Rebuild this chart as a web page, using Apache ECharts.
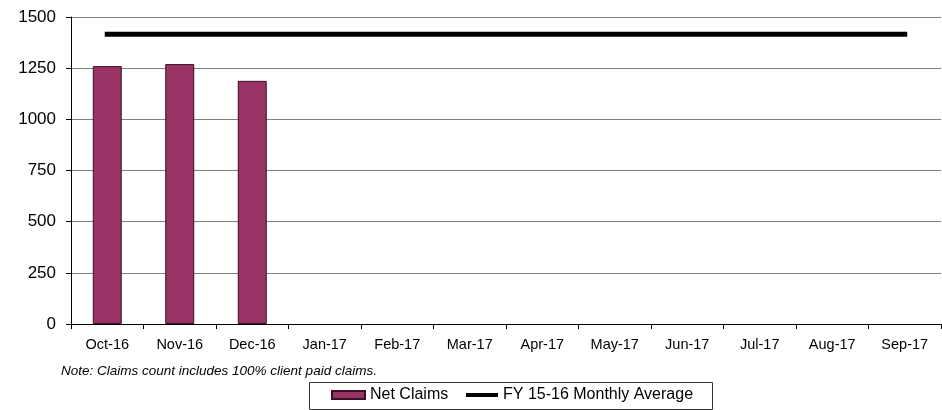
<!DOCTYPE html>
<html>
<head>
<meta charset="utf-8">
<script src="https://cdn.jsdelivr.net/npm/echarts@6/dist/echarts.min.js"></script>
<style>
  html, body { margin: 0; padding: 0; background: #fff; }
  #chart { width: 942px; height: 410px; }
</style>
</head>
<body>
<div id="chart"></div>
<script>
// Months of the fiscal year
const months = ['Oct-16', 'Nov-16', 'Dec-16', 'Jan-17', 'Feb-17', 'Mar-17',
                'Apr-17', 'May-17', 'Jun-17', 'Jul-17', 'Aug-17', 'Sep-17'];
// Net claims per month (only first quarter reported so far)
const netClaims = [1260, 1270, 1188, null, null, null, null, null, null, null, null, null];
// Prior fiscal year monthly average, drawn flat across the year
const priorAverage = [1416, 1416, 1416, 1416, 1416, 1416, 1416, 1416, 1416, 1416, 1416, 1416];
// Y axis ticks
const yTicks = [0, 250, 500, 750, 1000, 1250, 1500];

const FONT = 'Liberation Sans, Arial, sans-serif';
const chart = echarts.init(document.getElementById('chart'), null, { renderer: 'canvas' });

chart.setOption({
  animation: false,
  backgroundColor: '#fff',
  grid: { left: 71, right: 1, top: 17, bottom: 86, containLabel: false },
  xAxis: {
    type: 'category',
    data: months,
    boundaryGap: true,
    axisLine: { lineStyle: { color: '#000', width: 1 } },
    axisTick: { show: true, inside: false, length: 5, lineStyle: { color: '#000' } },
    axisLabel: { color: '#000', fontFamily: FONT, fontSize: 14.5, margin: 13 },
    splitLine: { show: false }
  },
  yAxis: {
    type: 'value',
    min: yTicks[0],
    max: yTicks[yTicks.length - 1],
    interval: yTicks[1] - yTicks[0],
    axisLine: { show: true, lineStyle: { color: '#000', width: 1 } },
    axisTick: { show: true, inside: false, length: 5, lineStyle: { color: '#000' } },
    axisLabel: {
      color: '#000', fontFamily: FONT, fontSize: 17, margin: 15,
      formatter: v => String(v)
    },
    splitLine: { show: true, lineStyle: { color: '#808080', width: 1 } }
  },
  legend: [
    {
      data: ['Net Claims'],
      left: 331, top: 387,
      itemWidth: 33, itemHeight: 8,
      icon: 'rect',
      padding: 0,
      textStyle: { color: '#000', fontFamily: FONT, fontSize: 16 },
      selectedMode: false
    },
    {
      data: ['FY 15-16 Monthly Average'],
      left: 466, top: 387,
      itemWidth: 32, itemHeight: 4,
      icon: 'rect',
      padding: 0,
      itemStyle: { color: '#000' },
      textStyle: { color: '#000', fontFamily: FONT, fontSize: 16 },
      selectedMode: false
    }
  ],
  graphic: [
    {
      type: 'text',
      left: 61, top: 364,
      style: {
        text: 'Note: Claims count includes 100% client paid claims.',
        fontFamily: FONT, fontSize: 13.5, fontStyle: 'italic', fill: '#000'
      }
    },
    {
      type: 'rect',
      left: 309, top: 382,
      shape: { width: 403, height: 27 },
      style: { fill: '#fff', stroke: '#333', lineWidth: 1 },
      z: -1
    }
  ],
  series: [
    {
      name: 'Net Claims',
      type: 'bar',
      data: netClaims,
      barWidth: 29,
      itemStyle: { color: '#993366', borderColor: '#3a1026', borderWidth: 1 }
    },
    {
      name: 'FY 15-16 Monthly Average',
      type: 'line',
      data: priorAverage,
      symbol: 'none',
      lineStyle: { color: '#000', width: 5, cap: 'square' },
      itemStyle: { color: '#000' },
      z: 3
    }
  ]
});
</script>
</body>
</html>
